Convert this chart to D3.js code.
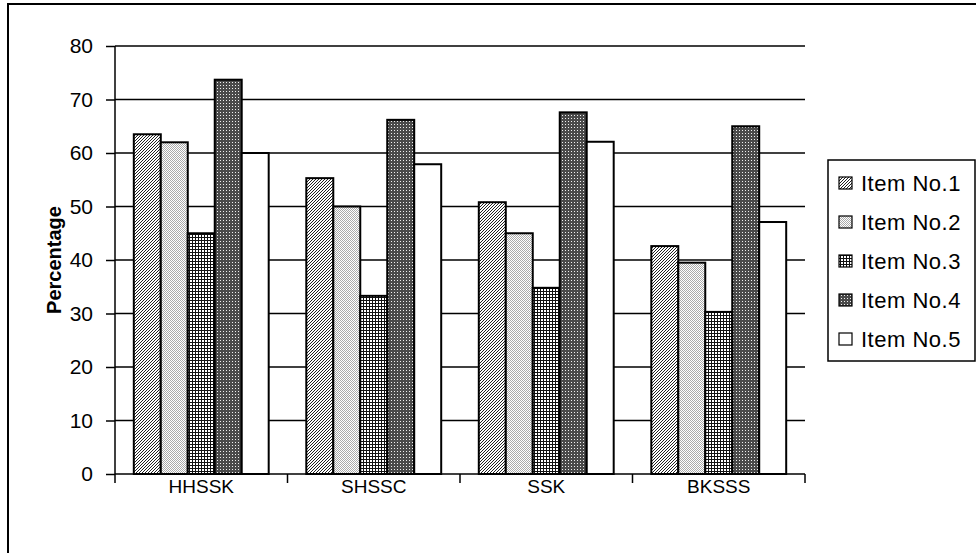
<!DOCTYPE html>
<html><head><meta charset="utf-8">
<script src="https://cdn.jsdelivr.net/npm/d3@7"></script>
<style>html,body{margin:0;padding:0;background:#fff;}svg{display:block;}</style>
</head><body>
<svg id="chart" width="976" height="553"></svg>
<script>
const categories = ["HHSSK", "SHSSC", "SSK", "BKSSS"];
const items = ["Item No.1", "Item No.2", "Item No.3", "Item No.4", "Item No.5"];
const item1 = [63.5, 55.3, 50.8, 42.6];
const item2 = [62.0, 50.0, 45.0, 39.5];
const item3 = [45.0, 33.3, 34.8, 30.3];
const item4 = [73.7, 66.2, 67.6, 65.0];
const item5 = [60.0, 57.9, 62.1, 47.1];
const yTicks = [0, 10, 20, 30, 40, 50, 60, 70, 80];
const series = [item1, item2, item3, item4, item5];

(function () {
const svg = d3.select("#chart");
const font = "'Liberation Sans', Arial, sans-serif";

const defs = svg.append("defs");
function pat(id, size, bg, pixels, color) {
  const p = defs.append("pattern").attr("id", id).attr("patternUnits", "userSpaceOnUse")
    .attr("width", size).attr("height", size);
  p.append("rect").attr("width", size).attr("height", size).attr("fill", bg);
  pixels.forEach(([px, py]) => p.append("rect").attr("x", px).attr("y", py).attr("width", 1).attr("height", 1).attr("fill", color));
}
pat("p1", 3, "#fff", [[0,2],[1,1],[2,0]], "#222");
pat("p2", 2, "#fff", [[0,0],[1,1]], "#aaa");
pat("p3", 3, "#fff", [[0,0],[1,0],[2,0],[0,1],[0,2]], "#111");
pat("p4", 3, "#4a4a4a", [[1,1]], "#f0f0f0");
const fills = ["url(#p1)", "url(#p2)", "url(#p3)", "url(#p4)", "#fff"];

svg.append("rect").attr("x", 8).attr("y", 4).attr("width", 1000).attr("height", 600)
  .attr("fill", "none").attr("stroke", "#000").attr("stroke-width", 2);

const pLeft = 115, pRight = 805, pTop = 46, pBottom = 474;
const y = d3.scaleLinear().domain([0, 80]).range([pBottom, pTop]);
const x0 = d3.scaleBand().domain(categories).range([pLeft, pRight]).padding(0);
const pad = x0.bandwidth() * 0.109;
const x1 = d3.scaleBand().domain(items).range([pad, x0.bandwidth() - pad]).padding(0);

svg.append("g").selectAll("line").data(yTicks.filter(d => d > 0)).join("line")
  .attr("x1", pLeft).attr("x2", pRight).attr("y1", d => y(d)).attr("y2", d => y(d))
  .attr("stroke", "#000").attr("stroke-width", 1.5);

const g = svg.append("g");
categories.forEach((c, ci) => {
  items.forEach((it, ii) => {
    const v = series[ii][ci];
    g.append("rect")
      .attr("x", x0(c) + x1(it)).attr("y", y(v))
      .attr("width", x1.bandwidth()).attr("height", y(0) - y(v))
      .attr("fill", fills[ii]).attr("stroke", "#000").attr("stroke-width", 2);
  });
});

const yAxis = svg.append("g").attr("transform", `translate(${pLeft},0)`)
  .call(d3.axisLeft(y).tickValues(yTicks).tickSize(9).tickPadding(13));
yAxis.select(".domain").attr("stroke", "#000").attr("stroke-width", 1.5).attr("d", `M0,${pTop}V${pBottom}`);
yAxis.selectAll(".tick line").attr("stroke", "#000").attr("stroke-width", 1.5);
yAxis.selectAll("text").attr("font-family", font).attr("font-size", 21).attr("fill", "#000");

const xAxis = svg.append("g").attr("transform", `translate(0,${pBottom})`)
  .call(d3.axisBottom(x0).tickSize(0).tickPadding(6));
xAxis.select(".domain").remove();
xAxis.append("line").attr("x1", pLeft).attr("x2", pRight).attr("stroke", "#000").attr("stroke-width", 1.5);
const bounds = [pLeft, ...categories.map(c => x0(c) + x0.bandwidth())];
xAxis.selectAll(".sep").data(bounds).join("line").attr("class", "sep")
  .attr("x1", d => d).attr("x2", d => d).attr("y1", 0).attr("y2", 9)
  .attr("stroke", "#000").attr("stroke-width", 1.5);
xAxis.selectAll(".tick text").attr("font-family", font).attr("font-size", 19).attr("fill", "#000");

svg.append("text").attr("transform", `translate(61,${(pTop + pBottom) / 2}) rotate(-90)`)
  .attr("text-anchor", "middle").attr("font-family", font).attr("font-size", 20)
  .attr("font-weight", "bold").text("Percentage");

const lg = svg.append("g");
lg.append("rect").attr("x", 828).attr("y", 160).attr("width", 147).attr("height", 201)
  .attr("fill", "#fff").attr("stroke", "#000").attr("stroke-width", 1.5);
items.forEach((it, i) => {
  const cy = 183 + i * 39;
  lg.append("rect").attr("x", 839).attr("y", cy - 6).attr("width", 13).attr("height", 12)
    .attr("fill", fills[i]).attr("stroke", "#000").attr("stroke-width", 1.2);
  lg.append("text").attr("x", 861).attr("y", cy + 8).attr("font-family", font)
    .attr("font-size", 22).attr("letter-spacing", 0.5).text(it);
});
})();
</script>
</body></html>
